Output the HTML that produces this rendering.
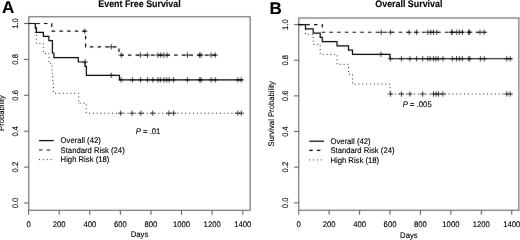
<!DOCTYPE html>
<html><head><meta charset="utf-8"><style>
html,body{margin:0;padding:0;background:#fff;width:520px;height:240px;overflow:hidden}
svg{display:block}
text{font-family:"Liberation Sans",sans-serif;fill:#000;text-rendering:geometricPrecision;stroke:#000;stroke-width:0.12px}
</style></head><body>
<svg width="520" height="240" viewBox="0 0 520 240">
<defs><filter id="bl" x="0" y="0" width="520" height="240" filterUnits="userSpaceOnUse"><feConvolveMatrix order="3" kernelMatrix="0.00276 0.04704 0.00276 0.04704 0.80077 0.04704 0.00276 0.04704 0.00276" preserveAlpha="false" edgeMode="none"/></filter><filter id="tb" x="0" y="0" width="520" height="240" filterUnits="userSpaceOnUse"><feConvolveMatrix order="3" kernelMatrix="0.00001 0.00381 0.00001 0.00381 0.98471 0.00381 0.00001 0.00381 0.00001" preserveAlpha="false" edgeMode="none"/></filter></defs>
<rect width="520" height="240" fill="#fff"/>
<g filter="url(#bl)">
<rect x="28.8" y="16.8" width="221.35" height="193.45" fill="none" stroke="#555" stroke-width="1.0"/>
<path d="M24.00,203.00H28.80M24.00,167.10H28.80M24.00,131.20H28.80M24.00,95.30H28.80M24.00,59.40H28.80M24.00,23.50H28.80M28.60,210.25V214.85M59.19,210.25V214.85M89.79,210.25V214.85M120.38,210.25V214.85M150.97,210.25V214.85M181.56,210.25V214.85M212.16,210.25V214.85M242.75,210.25V214.85" stroke="#555" stroke-width="1.0" fill="none"/>
<polyline points="28.60,23.50 35.30,23.50 35.30,27.80 36.40,27.80 36.40,32.30 43.40,32.30 43.40,36.40 48.90,36.40 48.90,40.60 52.40,40.60 52.40,53.00 53.90,53.00 53.90,57.70 78.30,57.70 78.30,62.00 85.00,62.00 85.00,66.30 86.40,66.30 86.40,75.30 119.50,75.30 119.50,79.90 243.00,79.90" fill="none" stroke="#000" stroke-width="1.2"/>
<polyline points="28.60,23.50 51.75,23.50 51.75,31.20 85.60,31.20 85.60,46.90 119.00,46.90 119.00,55.10 217.00,55.10" fill="none" stroke="#000" stroke-width="1.2" stroke-dasharray="3.5 4.2"/>
<polyline points="28.60,23.50 35.30,23.50 35.30,33.50 36.40,33.50 36.40,43.40 43.40,43.40 43.40,53.40 48.90,53.40 48.90,63.40 52.00,63.40 52.00,73.40 52.80,73.40 52.80,83.30 53.50,83.30 53.50,93.30 78.75,93.30 78.75,103.30 86.25,103.30 86.25,113.20 243.00,113.20" fill="none" stroke="#000" stroke-width="1.0" stroke-dasharray="0.9 2.95"/>
<path d="M82.55,62.00H87.95M85.25,59.30V64.70M108.55,75.30H113.95M111.25,72.60V78.00M118.40,79.90H123.80M121.10,77.20V82.60M129.70,79.90H135.10M132.40,77.20V82.60M137.90,79.90H143.30M140.60,77.20V82.60M144.90,79.90H150.30M147.60,77.20V82.60M150.10,79.90H155.50M152.80,77.20V82.60M155.30,79.90H160.70M158.00,77.20V82.60M157.70,79.90H163.10M160.40,77.20V82.60M161.30,79.90H166.70M164.00,77.20V82.60M164.00,79.90H169.40M166.70,77.20V82.60M166.50,79.90H171.90M169.20,77.20V82.60M170.90,79.90H176.30M173.60,77.20V82.60M184.70,79.90H190.10M187.40,77.20V82.60M197.10,79.90H202.50M199.80,77.20V82.60M198.20,79.90H203.60M200.90,77.20V82.60M208.50,79.90H213.90M211.20,77.20V82.60M212.60,79.90H218.00M215.30,77.20V82.60M235.20,79.90H240.60M237.90,77.20V82.60M238.50,79.90H243.90M241.20,77.20V82.60" stroke="#000" stroke-width="0.75" fill="none"/>
<path d="M82.05,31.20H87.45M84.75,28.50V33.90M108.55,46.90H113.95M111.25,44.20V49.60M118.55,55.10H123.95M121.25,52.40V57.80M137.70,55.10H143.10M140.40,52.40V57.80M144.80,55.10H150.20M147.50,52.40V57.80M155.20,55.10H160.60M157.90,52.40V57.80M158.10,55.10H163.50M160.80,52.40V57.80M161.05,55.10H166.45M163.75,52.40V57.80M164.40,55.10H169.80M167.10,52.40V57.80M184.80,55.10H190.20M187.50,52.40V57.80M196.90,55.10H202.30M199.60,52.40V57.80M198.30,55.10H203.70M201.00,52.40V57.80M208.40,55.10H213.80M211.10,52.40V57.80M212.50,55.10H217.90M215.20,52.40V57.80" stroke="#000" stroke-width="0.75" fill="none"/>
<path d="M118.00,113.20H123.40M120.70,110.50V115.90M129.40,113.20H134.80M132.10,110.50V115.90M138.20,113.20H143.60M140.90,110.50V115.90M150.00,113.20H155.40M152.70,110.50V115.90M166.10,113.20H171.50M168.80,110.50V115.90M170.90,113.20H176.30M173.60,110.50V115.90M235.10,113.20H240.50M237.80,110.50V115.90M238.60,113.20H244.00M241.30,110.50V115.90" stroke="#000" stroke-width="0.75" fill="none"/>
<line x1="39.0" y1="140.6" x2="53.75" y2="140.6" stroke="#000" stroke-width="1.2"/>
<line x1="39.0" y1="150.0" x2="53.75" y2="150.0" stroke="#000" stroke-width="1.2" stroke-dasharray="3.5 4.2"/>
<line x1="39.0" y1="159.6" x2="53.75" y2="159.6" stroke="#000" stroke-width="1.0" stroke-dasharray="0.9 2.95"/>
<rect x="298.8" y="18.0" width="220.09999999999997" height="192.2" fill="none" stroke="#555" stroke-width="1.0"/>
<path d="M294.00,202.80H298.80M294.00,167.16H298.80M294.00,131.52H298.80M294.00,95.88H298.80M294.00,60.24H298.80M294.00,24.60H298.80M298.70,210.20V214.80M329.14,210.20V214.80M359.57,210.20V214.80M390.01,210.20V214.80M420.44,210.20V214.80M450.88,210.20V214.80M481.31,210.20V214.80M511.75,210.20V214.80" stroke="#555" stroke-width="1.0" fill="none"/>
<polyline points="298.60,24.60 305.50,24.60 305.50,28.85 313.20,28.85 313.20,33.10 320.20,33.10 320.20,37.30 322.30,37.30 322.30,41.60 337.00,41.60 337.00,45.80 348.50,45.80 348.50,50.10 352.50,50.10 352.50,54.30 390.00,54.30 390.00,58.75 512.00,58.75" fill="none" stroke="#000" stroke-width="1.2"/>
<polyline points="298.60,24.60 322.30,24.60 322.30,32.25 486.70,32.25" fill="none" stroke="#000" stroke-width="1.2" stroke-dasharray="3.5 4.2"/>
<polyline points="298.60,24.60 305.50,24.60 305.50,34.50 313.20,34.50 313.20,44.40 320.20,44.40 320.20,54.40 337.00,54.40 337.00,64.30 348.50,64.30 348.50,74.20 352.50,74.20 352.50,84.10 390.00,84.10 390.00,94.00 512.00,94.00" fill="none" stroke="#000" stroke-width="1.0" stroke-dasharray="0.9 2.95"/>
<path d="M378.30,54.30H383.70M381.00,51.60V57.00M387.70,58.75H393.10M390.40,56.05V61.45M398.70,58.75H404.10M401.40,56.05V61.45M407.20,58.75H412.60M409.90,56.05V61.45M413.90,58.75H419.30M416.60,56.05V61.45M420.00,58.75H425.40M422.70,56.05V61.45M425.10,58.75H430.50M427.80,56.05V61.45M427.40,58.75H432.80M430.10,56.05V61.45M430.80,58.75H436.20M433.50,56.05V61.45M433.20,58.75H438.60M435.90,56.05V61.45M435.50,58.75H440.90M438.20,56.05V61.45M440.20,58.75H445.60M442.90,56.05V61.45M449.60,58.75H455.00M452.30,56.05V61.45M453.80,58.75H459.20M456.50,56.05V61.45M456.70,58.75H462.10M459.40,56.05V61.45M459.60,58.75H465.00M462.30,56.05V61.45M466.10,58.75H471.50M468.80,56.05V61.45M467.10,58.75H472.50M469.80,56.05V61.45M477.70,58.75H483.10M480.40,56.05V61.45M481.60,58.75H487.00M484.30,56.05V61.45M504.10,58.75H509.50M506.80,56.05V61.45M507.50,58.75H512.90M510.20,56.05V61.45" stroke="#000" stroke-width="0.75" fill="none"/>
<path d="M378.50,32.25H383.90M381.20,29.55V34.95M387.70,32.25H393.10M390.40,29.55V34.95M406.50,32.25H411.90M409.20,29.55V34.95M413.90,32.25H419.30M416.60,29.55V34.95M425.10,32.25H430.50M427.80,29.55V34.95M428.10,32.25H433.50M430.80,29.55V34.95M430.80,32.25H436.20M433.50,29.55V34.95M434.10,32.25H439.50M436.80,29.55V34.95M448.90,32.25H454.30M451.60,29.55V34.95M449.30,32.25H454.70M452.00,29.55V34.95M454.10,32.25H459.50M456.80,29.55V34.95M456.80,32.25H462.20M459.50,29.55V34.95M459.80,32.25H465.20M462.50,29.55V34.95M465.90,32.25H471.30M468.60,29.55V34.95M466.90,32.25H472.30M469.60,29.55V34.95M477.30,32.25H482.70M480.00,29.55V34.95M481.30,32.25H486.70M484.00,29.55V34.95" stroke="#000" stroke-width="0.75" fill="none"/>
<path d="M387.70,94.00H393.10M390.40,91.30V96.70M398.70,94.00H404.10M401.40,91.30V96.70M407.20,94.00H412.60M409.90,91.30V96.70M420.00,94.00H425.40M422.70,91.30V96.70M430.80,94.00H436.20M433.50,91.30V96.70M433.40,94.00H438.80M436.10,91.30V96.70M435.90,94.00H441.30M438.60,91.30V96.70M440.20,94.00H445.60M442.90,91.30V96.70M504.10,94.00H509.50M506.80,91.30V96.70M507.50,94.00H512.90M510.20,91.30V96.70" stroke="#000" stroke-width="0.75" fill="none"/>
<line x1="309.2" y1="141.2" x2="324.0" y2="141.2" stroke="#000" stroke-width="1.2"/>
<line x1="309.2" y1="150.4" x2="324.0" y2="150.4" stroke="#000" stroke-width="1.2" stroke-dasharray="3.5 4.2"/>
<line x1="309.2" y1="159.9" x2="324.0" y2="159.9" stroke="#000" stroke-width="1.0" stroke-dasharray="0.9 2.95"/>
</g>
<g filter="url(#tb)">
<text transform="translate(18.20,203.00) rotate(-90) scale(1,1.05)" text-anchor="middle" font-size="7.7">0.0</text>
<text transform="translate(18.20,167.10) rotate(-90) scale(1,1.05)" text-anchor="middle" font-size="7.7">0.2</text>
<text transform="translate(18.20,131.20) rotate(-90) scale(1,1.05)" text-anchor="middle" font-size="7.7">0.4</text>
<text transform="translate(18.20,95.30) rotate(-90) scale(1,1.05)" text-anchor="middle" font-size="7.7">0.6</text>
<text transform="translate(18.20,59.40) rotate(-90) scale(1,1.05)" text-anchor="middle" font-size="7.7">0.8</text>
<text transform="translate(18.20,23.50) rotate(-90) scale(1,1.05)" text-anchor="middle" font-size="7.7">1.0</text>
<text transform="translate(28.60,227.00) scale(1,1.05)" text-anchor="middle" font-size="7.7">0</text>
<text transform="translate(59.19,227.00) scale(1,1.05)" text-anchor="middle" font-size="7.7">200</text>
<text transform="translate(89.79,227.00) scale(1,1.05)" text-anchor="middle" font-size="7.7">400</text>
<text transform="translate(120.38,227.00) scale(1,1.05)" text-anchor="middle" font-size="7.7">600</text>
<text transform="translate(150.97,227.00) scale(1,1.05)" text-anchor="middle" font-size="7.7">800</text>
<text transform="translate(181.56,227.00) scale(1,1.05)" text-anchor="middle" font-size="7.7">1000</text>
<text transform="translate(212.16,227.00) scale(1,1.05)" text-anchor="middle" font-size="7.7">1200</text>
<text transform="translate(242.75,227.00) scale(1,1.05)" text-anchor="middle" font-size="7.7">1400</text>
<text transform="translate(139.47,237.20) scale(1,1.05)" text-anchor="middle" font-size="7.7">Days</text>
<text transform="translate(4.00,113.00) rotate(-90) scale(1,1.05)" text-anchor="middle" font-size="7.7">Probability</text>
<text transform="translate(139.47,6.75) scale(1,1.08)" text-anchor="middle" font-size="8.9" font-weight="bold">Event Free Survival</text>
<text transform="translate(1.90,13.40)" font-size="17" font-weight="bold">A</text>
<text transform="translate(60.60,143.30) scale(1,1.05)" font-size="7.7">Overall (42)</text>
<text transform="translate(60.60,152.70) scale(1,1.05)" font-size="7.7">Standard Risk (24)</text>
<text transform="translate(60.60,162.30) scale(1,1.05)" font-size="7.7">High Risk (18)</text>
<text transform="translate(135.80,134.00) scale(1,1.05)" font-size="7.7"><tspan font-style="italic">P</tspan> = .01</text>
<text transform="translate(288.20,202.80) rotate(-90) scale(1,1.05)" text-anchor="middle" font-size="7.7">0.0</text>
<text transform="translate(288.20,167.16) rotate(-90) scale(1,1.05)" text-anchor="middle" font-size="7.7">0.2</text>
<text transform="translate(288.20,131.52) rotate(-90) scale(1,1.05)" text-anchor="middle" font-size="7.7">0.4</text>
<text transform="translate(288.20,95.88) rotate(-90) scale(1,1.05)" text-anchor="middle" font-size="7.7">0.6</text>
<text transform="translate(288.20,60.24) rotate(-90) scale(1,1.05)" text-anchor="middle" font-size="7.7">0.8</text>
<text transform="translate(288.20,24.60) rotate(-90) scale(1,1.05)" text-anchor="middle" font-size="7.7">1.0</text>
<text transform="translate(298.70,227.00) scale(1,1.05)" text-anchor="middle" font-size="7.7">0</text>
<text transform="translate(329.14,227.00) scale(1,1.05)" text-anchor="middle" font-size="7.7">200</text>
<text transform="translate(359.57,227.00) scale(1,1.05)" text-anchor="middle" font-size="7.7">400</text>
<text transform="translate(390.01,227.00) scale(1,1.05)" text-anchor="middle" font-size="7.7">600</text>
<text transform="translate(420.44,227.00) scale(1,1.05)" text-anchor="middle" font-size="7.7">800</text>
<text transform="translate(450.88,227.00) scale(1,1.05)" text-anchor="middle" font-size="7.7">1000</text>
<text transform="translate(481.31,227.00) scale(1,1.05)" text-anchor="middle" font-size="7.7">1200</text>
<text transform="translate(511.75,227.00) scale(1,1.05)" text-anchor="middle" font-size="7.7">1400</text>
<text transform="translate(408.85,237.90) scale(1,1.05)" text-anchor="middle" font-size="7.7">Days</text>
<text transform="translate(273.50,113.80) rotate(-90) scale(1,1.05)" text-anchor="middle" font-size="7.7">Survival Probability</text>
<text transform="translate(408.85,7.20) scale(1,1.08)" text-anchor="middle" font-size="8.9" font-weight="bold">Overall Survival</text>
<text transform="translate(269.40,13.70)" font-size="17" font-weight="bold">B</text>
<text transform="translate(330.40,143.90) scale(1,1.05)" font-size="7.7">Overall (42)</text>
<text transform="translate(330.40,153.10) scale(1,1.05)" font-size="7.7">Standard Risk (24)</text>
<text transform="translate(330.40,162.60) scale(1,1.05)" font-size="7.7">High Risk (18)</text>
<text transform="translate(402.80,107.00) scale(1,1.05)" font-size="7.7"><tspan font-style="italic">P</tspan> = .005</text>
</g>
</svg>
</body></html>
